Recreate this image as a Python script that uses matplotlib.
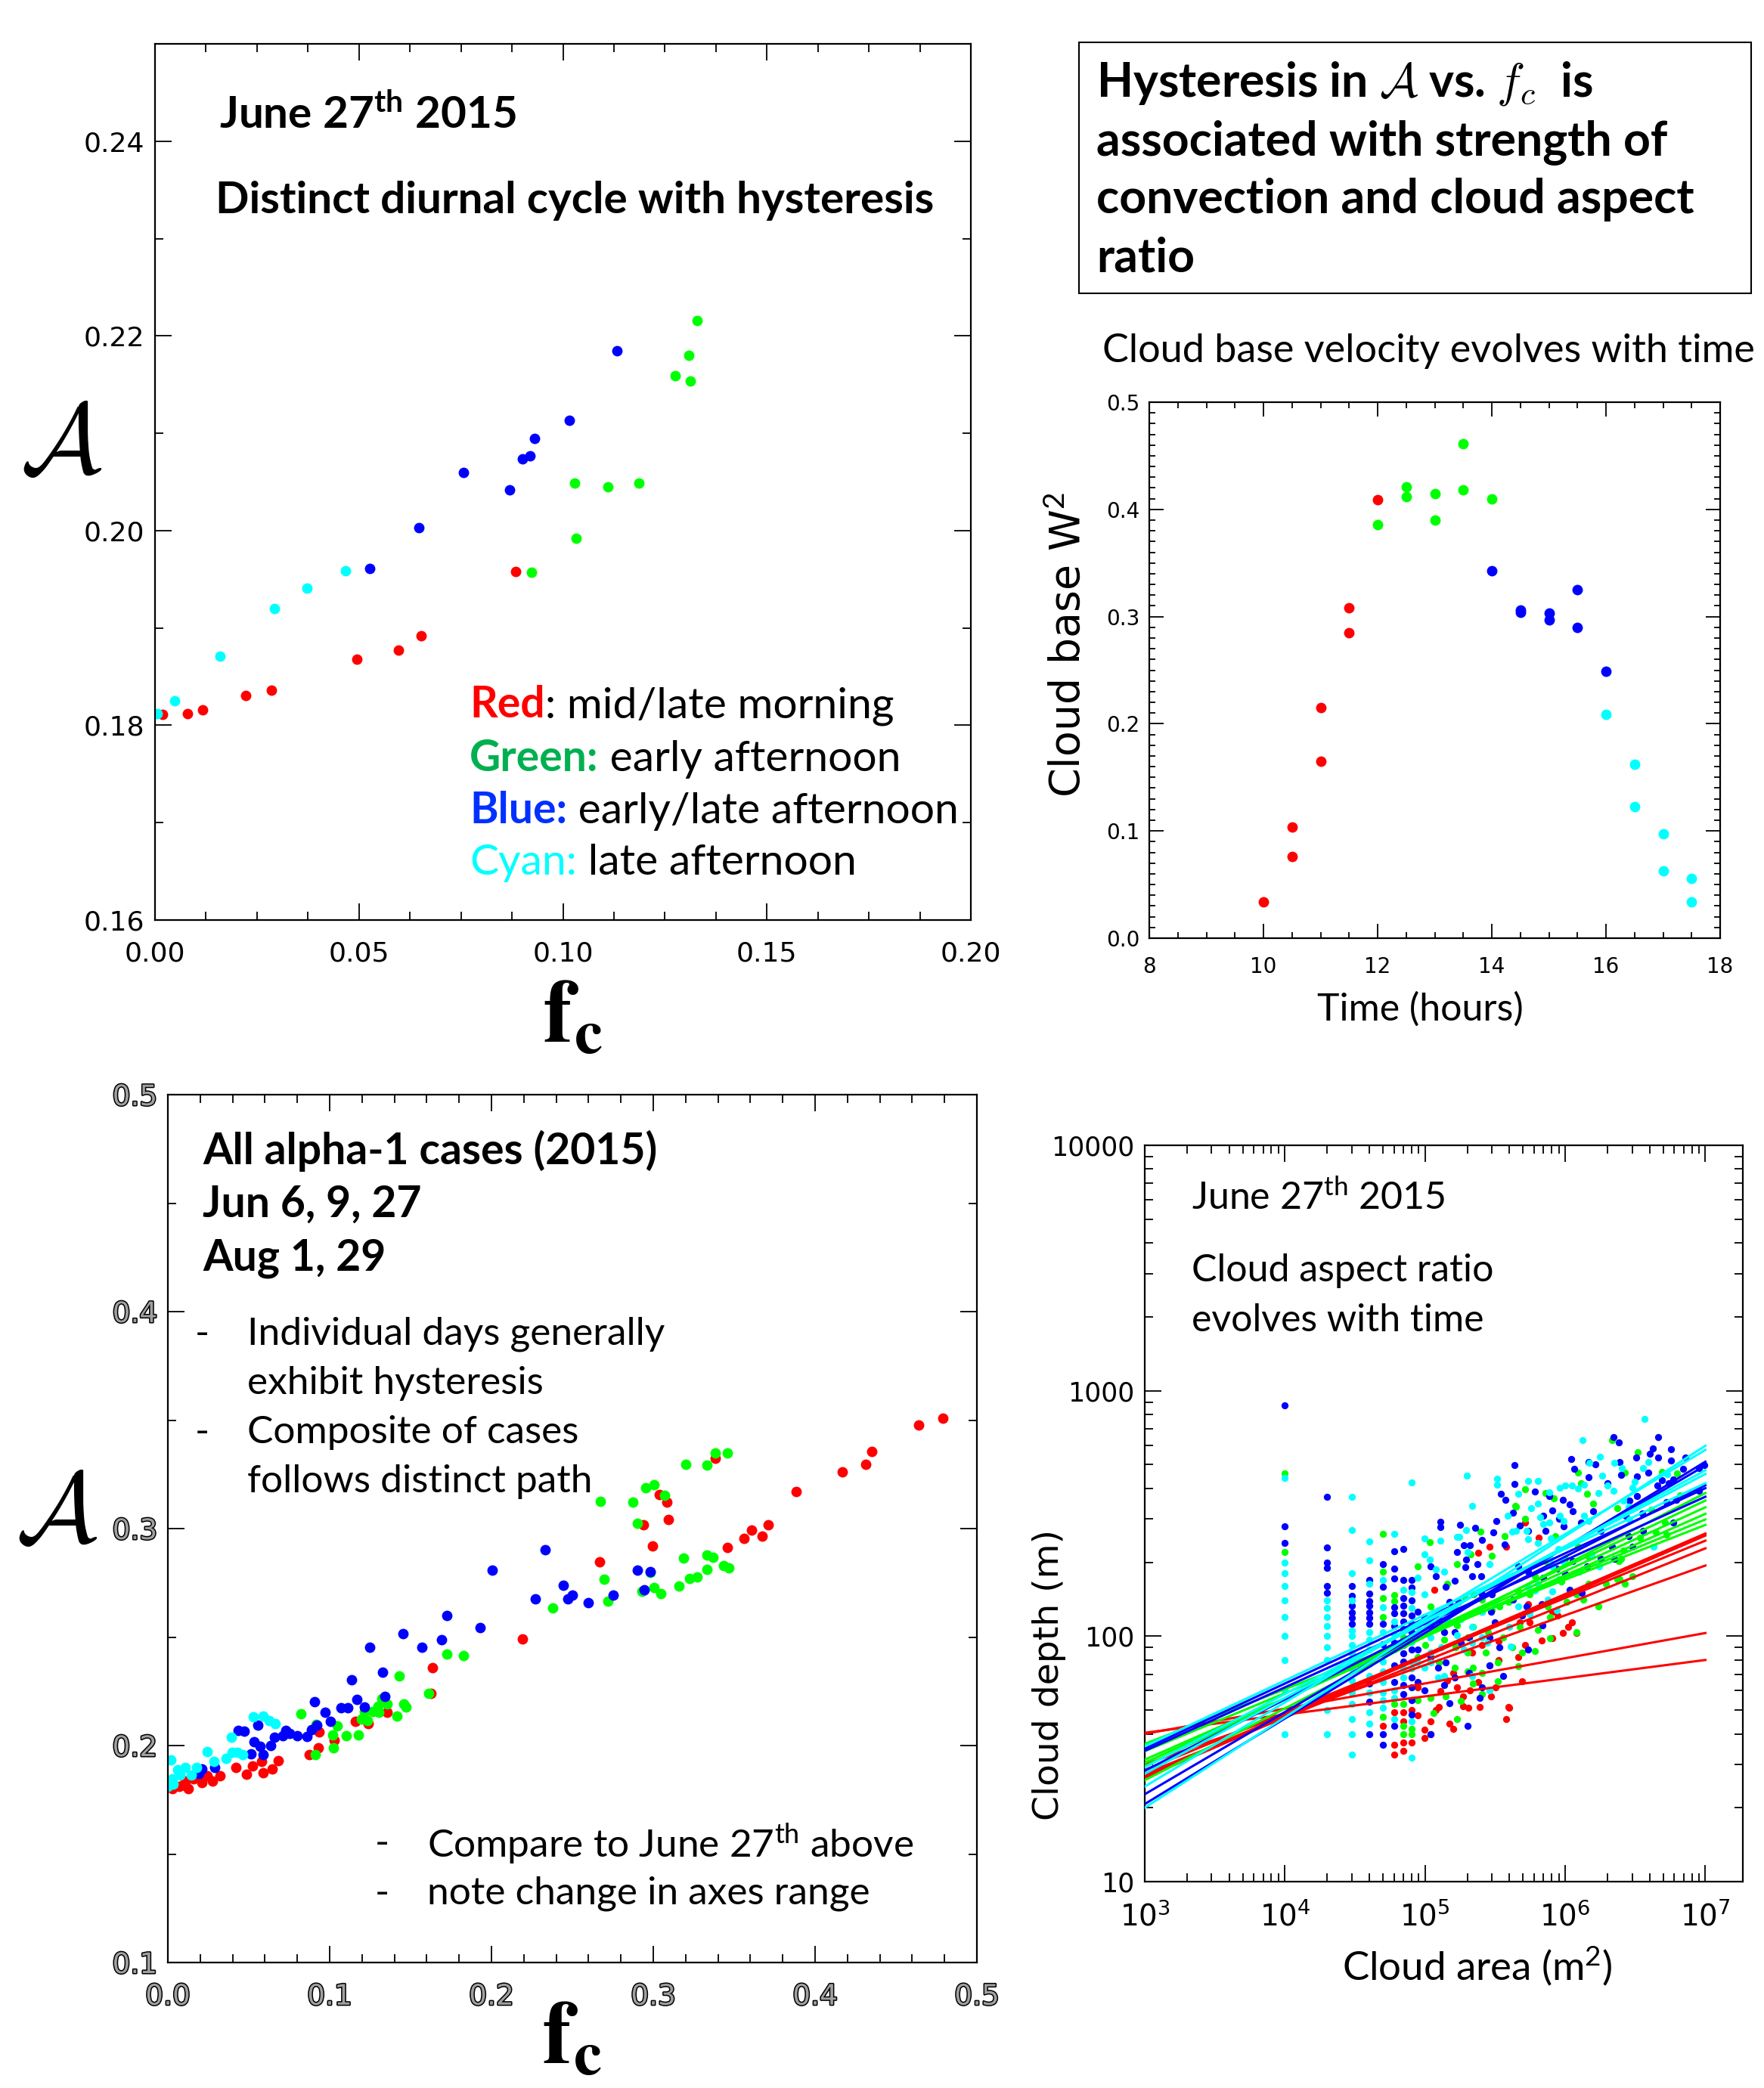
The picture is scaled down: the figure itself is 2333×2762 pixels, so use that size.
import numpy as np
import matplotlib
matplotlib.use('Agg')
import matplotlib.pyplot as plt
from matplotlib.ticker import MultipleLocator, LogLocator, FixedLocator, FuncFormatter, NullFormatter
from matplotlib.offsetbox import TextArea, HPacker, AnnotationBbox
from matplotlib.patches import Rectangle
import matplotlib.patheffects as pe
from matplotlib import font_manager

# ---------------- donnees ----------------
# panneau haut gauche : 27 juin 2015, A vs fc
tl_red_fc = [0.0019, 0.0080, 0.0117, 0.0222, 0.0285, 0.0495, 0.0597, 0.0652, 0.0885]
tl_red_A = [0.1811, 0.1812, 0.1816, 0.1831, 0.1836, 0.1868, 0.1877, 0.1892, 0.1958]
tl_green_fc = [0.0924, 0.1029, 0.1033, 0.1110, 0.1186, 0.1275, 0.1308, 0.1312, 0.1329]
tl_green_A = [0.1957, 0.2049, 0.1992, 0.2045, 0.2049, 0.2159, 0.2180, 0.2154, 0.2216]
tl_blue_fc = [0.0526, 0.0646, 0.0757, 0.0870, 0.0901, 0.0919, 0.0931, 0.1015, 0.1132]
tl_blue_A = [0.1961, 0.2003, 0.2060, 0.2042, 0.2074, 0.2077, 0.2095, 0.2113, 0.2185]
tl_cyan_fc = [0.0005, 0.0048, 0.0159, 0.0293, 0.0373, 0.0467]
tl_cyan_A = [0.1812, 0.1825, 0.1871, 0.1920, 0.1941, 0.1959]

# panneau haut droite : W^2 a la base des nuages
tr_red_t = [10, 10.5, 10.5, 11, 11, 11.5, 11.5, 12]
tr_red_w = [0.034, 0.104, 0.076, 0.215, 0.165, 0.308, 0.285, 0.409]
tr_green_t = [12, 12.5, 12.5, 13, 13, 13.5, 13.5, 14]
tr_green_w = [0.386, 0.421, 0.412, 0.415, 0.390, 0.461, 0.418, 0.410]
tr_blue_t = [14, 14.5, 14.5, 15, 15, 15.5, 15.5, 16]
tr_blue_w = [0.343, 0.306, 0.304, 0.303, 0.297, 0.325, 0.290, 0.249]
tr_cyan_t = [16, 16.5, 16.5, 17, 17, 17.5, 17.5]
tr_cyan_w = [0.209, 0.162, 0.123, 0.097, 0.063, 0.056, 0.034]

# panneau bas gauche : tous les cas alpha-1 (fc, A)
bl_red = [(0.000, 0.1812), (0.003, 0.1800), (0.0068, 0.1812), (0.0107, 0.1814), (0.0107, 0.1835),
          (0.0125, 0.1800), (0.0161, 0.1847), (0.0211, 0.1830), (0.0242, 0.1859), (0.0274, 0.1835),
          (0.0323, 0.1859), (0.0421, 0.1899), (0.0484, 0.1868), (0.0524, 0.1905), (0.0580, 0.1928),
          (0.0589, 0.1876), (0.0643, 0.1891), (0.0682, 0.1932), (0.0874, 0.1957), (0.0930, 0.1990),
          (0.0934, 0.2064), (0.1029, 0.2023), (0.1158, 0.2110), (0.1236, 0.2102), (0.1356, 0.2155),
          (0.1625, 0.2242), (0.1634, 0.2358), (0.2192, 0.2491), (0.2668, 0.2845), (0.2940, 0.3016),
          (0.2996, 0.2920), (0.3037, 0.3157), (0.3084, 0.3121), (0.3095, 0.3043), (0.3382, 0.3325),
          (0.3460, 0.2913), (0.3561, 0.2953), (0.3609, 0.2993), (0.3675, 0.2965), (0.3711, 0.3016),
          (0.3884, 0.3169), (0.4170, 0.3261), (0.4314, 0.3296), (0.4351, 0.3355), (0.4639, 0.3477),
          (0.4789, 0.3507)]
bl_green = [(0.0822, 0.2145), (0.0916, 0.2097), (0.0910, 0.1957), (0.1024, 0.1990), (0.1021, 0.2048),
            (0.1049, 0.2090), (0.1101, 0.2044), (0.1178, 0.2049), (0.1198, 0.2123), (0.1234, 0.2116),
            (0.1216, 0.2158), (0.1266, 0.2158), (0.1302, 0.2152), (0.1298, 0.2180), (0.1324, 0.2216),
            (0.1356, 0.2192), (0.1415, 0.2135), (0.1431, 0.2320), (0.1460, 0.2192), (0.1473, 0.2178),
            (0.1613, 0.2242), (0.1724, 0.2422), (0.1825, 0.2414), (0.2377, 0.2634), (0.2671, 0.3126),
            (0.2697, 0.2767), (0.2721, 0.2666), (0.2873, 0.3122), (0.2901, 0.3025), (0.2932, 0.2712),
            (0.2954, 0.3188), (0.2982, 0.2799), (0.3007, 0.3202), (0.3007, 0.2729), (0.3048, 0.2699),
            (0.3071, 0.3153), (0.3157, 0.2735), (0.3185, 0.2863), (0.3199, 0.3297), (0.3225, 0.2770),
            (0.3272, 0.2776), (0.3333, 0.2877), (0.3333, 0.2811), (0.3334, 0.3293), (0.3367, 0.2868),
            (0.3381, 0.3349), (0.3434, 0.2831), (0.3457, 0.3348), (0.3465, 0.2819)]
bl_blue = [(0.0190, 0.1870), (0.0209, 0.1891), (0.0292, 0.1899), (0.0434, 0.2071), (0.0472, 0.2065),
           (0.0515, 0.1961), (0.0533, 0.2019), (0.0556, 0.2094), (0.0571, 0.1995), (0.0590, 0.1957),
           (0.0637, 0.2000), (0.0661, 0.2037), (0.0709, 0.2044), (0.0731, 0.2068), (0.0754, 0.2056),
           (0.0797, 0.2047), (0.0860, 0.2042), (0.0889, 0.2073), (0.0905, 0.2203), (0.0921, 0.2093),
           (0.0971, 0.2152), (0.1007, 0.2112), (0.1068, 0.2174), (0.1110, 0.2174), (0.1137, 0.2304),
           (0.1166, 0.2213), (0.1214, 0.2178), (0.1248, 0.2453), (0.1325, 0.2338), (0.1340, 0.2227),
           (0.1453, 0.2514), (0.1568, 0.2453), (0.1692, 0.2488), (0.1726, 0.2600), (0.1929, 0.2545),
           (0.2007, 0.2807), (0.2272, 0.2677), (0.2334, 0.2902), (0.2443, 0.2739), (0.2470, 0.2677),
           (0.2500, 0.2692), (0.2596, 0.2660), (0.2753, 0.2695), (0.2901, 0.2809), (0.2945, 0.2718),
           (0.2982, 0.2802)]
bl_cyan = [(0.0000, 0.1812), (0.0000, 0.1818), (0.0021, 0.1934), (0.0026, 0.1847), (0.0035, 0.1824),
           (0.0062, 0.1888), (0.0075, 0.1865), (0.0107, 0.1899), (0.0146, 0.1865), (0.0179, 0.1899),
           (0.0242, 0.1972), (0.0287, 0.1926), (0.0362, 0.1940), (0.0391, 0.2039), (0.0395, 0.1968),
           (0.0430, 0.1968), (0.0463, 0.1957), (0.0529, 0.2131), (0.0589, 0.2136), (0.0628, 0.2116),
           (0.0664, 0.2102)]

# panneau bas droite : profondeur vs aire des nuages
# petites aires : colonnes (aire fixe, liste de profondeurs)
col_area = [1e4, 2e4, 3e4, 4e4, 5e4, 6e4, 7e4, 8e4]
red_cols = [[], [], [], [], [43], [49, 36, 33], [49, 45, 37, 34], [37]]
green_cols = [[220, 460], [], [], [], [262, 183, 143, 120, 47], [147, 139, 53], [99, 53, 43, 40], [42, 40]]
blue_cols = [[240, 280, 870], [370, 230, 200, 190, 160, 150], [160, 146, 133, 125, 119, 112],
             [170, 149, 139, 133, 125, 119, 112, 64, 54, 40], [197, 159, 112, 93, 40, 36],
             [222, 189, 172, 131, 124, 110, 94, 76, 65, 43],
             [227, 170, 143, 133, 124, 115, 107, 92, 85, 79, 63, 58],
             [170, 158, 140, 121, 112, 104, 88, 68, 62, 55, 48]]
cyan_cols = [[40, 60, 80, 100, 120, 140, 160, 180, 200, 440],
             [140, 130, 120, 110, 100, 90, 80, 70, 60, 50, 40],
             [370, 270, 180, 140, 105, 100, 92, 85, 80, 74, 66, 59, 53, 46, 40, 33],
             [243, 204, 164, 104, 97, 88, 77, 69, 59, 49, 44],
             [170, 131, 104, 85, 79, 72, 65, 59, 55, 51],
             [262, 115, 102, 88, 60, 56, 46], [154, 74, 68], [423, 151, 130, 95, 79, 74, 45, 32]]
# grandes aires : points (aire m2, profondeur m)
red_pts = [(1.16e5, 155), (9.9e4, 41.7), (9.9e4, 38.4), (8.9e4, 47.5), (1.09e5, 45), (1.09e5, 39.8),
           (8.0e4, 50), (8.9e4, 62), (1.19e5, 50), (1.26e5, 51.6), (1.29e5, 59.6), (1.43e5, 66),
           (1.59e5, 71), (1.69e5, 62), (1.49e5, 44), (1.59e5, 42), (1.87e5, 52), (2.08e5, 60),
           (2.04e5, 51), (2.45e5, 51.6), (2.4e5, 65), (1.87e5, 57), (2.17e5, 86), (2.56e5, 92),
           (2.96e5, 56.7), (3.2e5, 62), (2.9e5, 76), (3.35e5, 80), (3.35e5, 95.6), (3.8e5, 46),
           (3.95e5, 51.6), (2.4e5, 219), (2.9e5, 232), (3.8e5, 232), (4.0e5, 51), (4.65e5, 82),
           (4.95e5, 65.5), (5.2e5, 92), (4.75e5, 114), (5.6e5, 114), (5.4e5, 135), (6.8e5, 96),
           (8.1e5, 98), (9.6e5, 103), (1.05e6, 109), (1.12e6, 114), (8.85e5, 121), (8.1e5, 126),
           (6.5e5, 252), (5.2e5, 291), (1.2e6, 103)]
green_pts = [(1.08e5, 241), (8.9e4, 193), (2.47e5, 267), (1.69e5, 196), (2.12e5, 216), (3.0e5, 212),
             (3.7e5, 255), (4.4e5, 340), (1.43e5, 163), (1.91e5, 145), (2.21e5, 148), (2.56e5, 141),
             (3.0e5, 128), (3.4e5, 132), (3.95e5, 138), (1.09e5, 132), (1.26e5, 128), (1.43e5, 117),
             (1.69e5, 111), (2.0e5, 99), (2.2e5, 109), (2.8e5, 104), (3.6e5, 99), (4.2e5, 90),
             (1.37e5, 97), (1.65e5, 90), (2.0e5, 86), (2.2e5, 74.5), (2.7e5, 86), (3.3e5, 78),
             (1.0e5, 92), (8.9e4, 82), (1.26e5, 78), (1.62e5, 74.5), (2.0e5, 72), (2.56e5, 71),
             (1.4e5, 57), (1.8e5, 54.6), (2.2e5, 64), (2.56e5, 58), (3.3e5, 65.5), (8.9e4, 55),
             (1.09e5, 56), (1.69e5, 46), (1.15e5, 48.5),
             (1.24e6, 465), (2.15e6, 628), (5.2e5, 398), (7.2e5, 382), (8.3e5, 365), (1.29e6, 421),
             (1.43e6, 380), (1.58e6, 348), (2.34e6, 332), (4.47e5, 336), (5.2e5, 301), (8.5e5, 255),
             (1.23e6, 232), (1.46e6, 211), (2.15e6, 232), (2.4e6, 202), (1.0e6, 206), (7.2e5, 202),
             (6.1e5, 175), (9.4e5, 167), (1.21e6, 148), (1.46e6, 163), (1.34e6, 141), (1.72e6, 132),
             (1.95e6, 163), (2.34e6, 171), (4.65e5, 152), (5.6e5, 148), (7.5e5, 132), (7.8e5, 120),
             (1.02e6, 138), (4.75e5, 109), (6.4e5, 106), (7.8e5, 98), (1.21e6, 104), (4.95e5, 86),
             (6.1e5, 87), (4.65e5, 75.5),
             (3.3e6, 561), (6.25e6, 462), (2.65e6, 465), (4.9e6, 468), (4.1e6, 328), (6.6e6, 376),
             (5.15e6, 291), (4.46e6, 265), (3.4e6, 252), (5.3e6, 259), (2.6e6, 224), (2.5e6, 206),
             (3.0e6, 175), (2.65e6, 164), (2.45e6, 171)]
blue_pts = [(4.35e5, 498), (4.35e5, 418), (3.46e5, 379), (3.76e5, 360), (4.24e5, 318), (3.21e5, 294),
            (2.28e5, 276), (1.29e5, 292), (1.29e5, 278), (1.78e5, 284), (3.08e5, 265), (3.68e5, 237),
            (1.88e5, 234), (2.08e5, 234), (2.56e5, 247), (1.68e5, 221), (1.97e5, 205), (2.37e5, 196),
            (1.93e5, 191), (2.17e5, 175), (2.5e5, 175), (1.62e5, 168), (1.09e5, 192), (1.19e5, 175),
            (1.4e5, 159), (1.49e5, 138), (1.73e5, 138), (2.56e5, 148), (3.0e5, 148), (2.56e5, 126),
            (2.95e5, 126), (3.15e5, 114), (8.9e4, 126), (9.9e4, 120), (1.09e5, 111), (1.26e5, 117),
            (1.37e5, 104), (1.62e5, 104), (1.8e5, 94), (2.05e5, 99), (2.9e5, 99), (3.4e5, 90),
            (8.9e4, 88), (1.09e5, 82), (1.24e5, 74.5), (1.4e5, 78), (1.62e5, 68), (2.05e5, 71),
            (2.9e5, 76), (3.6e5, 69), (8.9e4, 65), (9.9e4, 60), (1.37e5, 63), (1.49e5, 53.5),
            (2.56e5, 62), (2.45e5, 56), (2.0e5, 43), (1.09e5, 40),
            (1.1e6, 528), (1.16e6, 482), (1.46e6, 514), (1.65e6, 501), (1.46e6, 443), (2.2e6, 649),
            (2.4e6, 616), (2.0e6, 420), (6.1e5, 389), (7.7e5, 373), (9.6e5, 360), (1.07e6, 344),
            (8.1e5, 325), (7.0e5, 309), (9.0e5, 301), (5.4e5, 268), (4.75e5, 282), (7.2e5, 268),
            (9.8e5, 281), (1.13e6, 324), (1.29e6, 291), (1.58e6, 324), (1.79e6, 268), (2.16e6, 232),
            (2.25e6, 206), (1.79e6, 206), (1.43e6, 192), (1.13e6, 202), (1.0e6, 179), (8.7e5, 188),
            (7.0e5, 173), (5.4e5, 183), (4.6e5, 192), (4.25e5, 141), (5.3e5, 132), (6.8e5, 135),
            (1.07e6, 155), (1.31e6, 150), (4.95e5, 121), (6.9e5, 111), (5.4e5, 88),
            (4.6e6, 648), (5.7e6, 578), (4.2e6, 582), (4.6e6, 536), (4.0e6, 552), (3.2e6, 536),
            (5.66e6, 520), (7.2e6, 536), (2.44e6, 514), (2.5e6, 453), (3.27e6, 449), (3.9e6, 464),
            (4.9e6, 432), (5.9e6, 435), (6.9e6, 479), (9.0e6, 484), (9.8e6, 497), (4.55e6, 410),
            (5.5e6, 420), (2.88e6, 356), (3.27e6, 373), (5.3e6, 351), (6.2e6, 360), (9.0e6, 391),
            (3.55e6, 316), (2.7e6, 309), (5.9e6, 291), (3.6e6, 269), (2.83e6, 255), (3.0e6, 232)]
cyan_pts = [(1.98e5, 451), (3.25e5, 438), (3.25e5, 415), (2.18e5, 340), (1.97e5, 270), (9.9e4, 250),
            (9.9e4, 215), (1.08e5, 205), (1.29e5, 245), (1.69e5, 254), (1.76e5, 254), (8.9e4, 173),
            (1.19e5, 187), (1.37e5, 183), (2.9e5, 196), (2.0e5, 220), (4.2e5, 267), (3.87e5, 309),
            (8.9e4, 109), (9.9e4, 148), (1.09e5, 99), (1.09e5, 86), (1.09e5, 78), (1.26e5, 109),
            (1.43e5, 117), (1.62e5, 132), (1.8e5, 117), (2.17e5, 109), (2.17e5, 94), (2.56e5, 126),
            (2.78e5, 94), (3.15e5, 135), (4.0e5, 109), (4.1e5, 91), (2.9e5, 60), (1.3e5, 90),
            (1.37e5, 69), (1.69e5, 101), (1.9e5, 88), (2.17e5, 69), (2.56e5, 99), (8.9e4, 78),
            (9.9e4, 74.5), (1.24e5, 68),
            (1.33e6, 631), (1.77e6, 538), (2.25e6, 510), (1.49e6, 508), (1.83e6, 451), (2.0e6, 410),
            (6.4e5, 430), (5.45e5, 428), (4.6e5, 380), (9.1e5, 403), (1.0e6, 412), (1.11e6, 410),
            (1.23e6, 401), (1.37e6, 415), (1.72e6, 382), (2.2e6, 391), (7.65e5, 387), (6.4e5, 348),
            (5.7e5, 332), (6.6e5, 305), (7.0e5, 286), (7.65e5, 291), (9.2e5, 310), (1.37e6, 309),
            (1.46e6, 294), (4.45e5, 268), (5.3e5, 269), (5.4e5, 249), (6.4e5, 239), (7.9e5, 250),
            (9.8e5, 294), (8.9e5, 227), (7.8e5, 206), (9.6e5, 202), (1.26e6, 183), (1.55e6, 216),
            (1.75e6, 192), (8.1e5, 192), (9.0e5, 171), (8.1e5, 152), (7.5e5, 141), (6.4e5, 163),
            (5.4e5, 159), (6.1e5, 153), (4.6e5, 132), (5.6e5, 123), (8.7e5, 128),
            (3.66e6, 769), (3.9e6, 514), (3.6e6, 484), (3.13e6, 425), (3.0e6, 403), (2.55e6, 484),
            (5.37e6, 457), (2.83e6, 336), (2.88e6, 298), (4.28e6, 232), (2.6e6, 356)]
# droites d'ajustement : profondeur a 1e3 m2 et a 1e7 m2
fit_area = [1e3, 1e7]
red_fit_start = [40.4, 40.0, 27.0, 26.5, 28.5, 27.5, 30.0]
red_fit_end = [80, 103, 262, 257, 245, 228, 194]
green_fit_start = [25.9, 29.6, 30.5, 31.4, 34.0, 36.4]
green_fit_end = [383, 357, 335, 315, 299, 284]
blue_fit_start = [20.7, 22.7, 28.3, 34.8, 34.1]
blue_fit_end = [514, 496, 412, 401, 370]
cyan_fit_start = [20.0, 24.4, 27.5, 29.2, 35.6]
cyan_fit_end = [597, 574, 474, 458, 420]

# ---------------- style ----------------
W, H = 2333, 2762
RED, GREEN, BLUE, CYAN = '#ff0000', '#00ff00', '#0000ff', '#00ffff'
TXT = 'Lato'
noms = {f.name for f in font_manager.fontManager.ttflist}
NARROW = 'Liberation Sans Narrow' if 'Liberation Sans Narrow' in noms else 'DejaVu Sans'

plt.rcParams['font.family'] = ['DejaVu Sans']
plt.rcParams['mathtext.fontset'] = 'custom'
plt.rcParams['mathtext.rm'] = TXT
plt.rcParams['mathtext.bf'] = TXT + ':bold'
plt.rcParams['mathtext.it'] = TXT + ':italic'

fig = plt.figure(figsize=(W / 100, H / 100), dpi=100)


def fx(px):
    return px / W


def fy(py):
    return 1 - py / H


def axes_px(left, top, right, bottom):
    return fig.add_axes([fx(left), fy(bottom), (right - left) / W, (bottom - top) / H])


def style(ax, lsize, maj=14, mino=7):
    ax.tick_params(which='both', direction='in', top=True, right=True, width=1.3, labelsize=lsize)
    ax.tick_params(which='major', length=maj)
    ax.tick_params(which='minor', length=mino)
    for s in ax.spines.values():
        s.set_linewidth(1.6)


def ligne_coul(x, y, tete, coul, gras, reste, taille):
    a = TextArea(tete, textprops=dict(color=coul, fontsize=taille, family=TXT,
                                      fontweight='bold' if gras else 'normal'))
    b = TextArea(reste, textprops=dict(color='black', fontsize=taille, family=TXT))
    box = HPacker(children=[a, b], align='baseline', pad=0, sep=0)
    ab = AnnotationBbox(box, (fx(x), fy(y)), xycoords='figure fraction', box_alignment=(0, 0.5),
                        frameon=False, pad=0)
    fig.add_artist(ab)


# ---------------- haut gauche ----------------
ax1 = axes_px(205, 58, 1284, 1217)
ax1.scatter(tl_red_fc, tl_red_A, s=100, color=RED, lw=0)
ax1.scatter(tl_green_fc, tl_green_A, s=100, color=GREEN, lw=0)
ax1.scatter(tl_blue_fc, tl_blue_A, s=100, color=BLUE, lw=0)
ax1.scatter(tl_cyan_fc, tl_cyan_A, s=100, color=CYAN, lw=0)
ax1.set_xlim(0, 0.2)
ax1.set_ylim(0.16, 0.25)
ax1.xaxis.set_major_locator(MultipleLocator(0.05))
ax1.xaxis.set_minor_locator(MultipleLocator(0.0125))
ax1.yaxis.set_major_locator(FixedLocator([0.16, 0.18, 0.20, 0.22, 0.24]))
ax1.yaxis.set_minor_locator(MultipleLocator(0.01))
ax1.xaxis.set_major_formatter(FuncFormatter(lambda v, p: '%.2f' % v))
ax1.yaxis.set_major_formatter(FuncFormatter(lambda v, p: '%.2f' % v))
style(ax1, 26, 16, 8)
ax1.tick_params(axis='x', pad=20)
ax1.tick_params(axis='y', pad=10)

fig.text(fx(290), fy(152), r'June 27$^{\mathbf{th}}$ 2015', fontsize=42, fontweight='bold', family=TXT, va='center')
fig.text(fx(285), fy(266), 'Distinct diurnal cycle with hysteresis', fontsize=42, fontweight='bold', family=TXT, va='center')
ligne_coul(621, 933, 'Red', '#ff0000', True, ': mid/late morning', 41)
ligne_coul(621, 1003, 'Green:', '#00b050', True, ' early afternoon', 41)
ligne_coul(621, 1073, 'Blue:', '#0030ff', True, ' early/late afternoon', 41)
ligne_coul(621, 1142, 'Cyan:', '#00ffff', False, ' late afternoon', 41)
fig.text(fx(81), fy(588), r'$\mathcal{A}$', fontsize=95, math_fontfamily='cm', ha='center', va='center')
fig.text(fx(757), fy(1346), r'$\mathbf{f}_{\mathbf{c}}$', fontsize=85, math_fontfamily='stix', ha='center', va='center')

# ---------------- haut droite : encadre ----------------
fig.add_artist(Rectangle((fx(1427), fy(388)), (2316 - 1427) / W, (388 - 56) / H, transform=fig.transFigure,
                         fill=False, lw=1.5, color='black'))
titre = [r'Hysteresis in $\mathcal{A}$ vs. $f_c$  is', 'associated with strength of',
         'convection and cloud aspect', 'ratio']
for i, t in enumerate(titre):
    fig.text(fx(1450), fy(128 + 77 * i), t, fontsize=45, fontweight='bold', family=TXT,
             math_fontfamily='cm', va='baseline')
fig.text(fx(1458), fy(464), 'Cloud base velocity evolves with time', fontsize=37.5, family=TXT, va='center')

ax2 = axes_px(1520, 532, 2275, 1241)
ax2.scatter(tr_red_t, tr_red_w, s=100, color=RED, lw=0)
ax2.scatter(tr_green_t, tr_green_w, s=100, color=GREEN, lw=0)
ax2.scatter(tr_blue_t, tr_blue_w, s=100, color=BLUE, lw=0)
ax2.scatter(tr_cyan_t, tr_cyan_w, s=100, color=CYAN, lw=0)
ax2.set_xlim(8, 18)
ax2.set_ylim(0, 0.5)
ax2.xaxis.set_major_locator(MultipleLocator(2))
ax2.xaxis.set_minor_locator(MultipleLocator(0.5))
ax2.yaxis.set_major_locator(MultipleLocator(0.1))
ax2.yaxis.set_minor_locator(MultipleLocator(0.01))
ax2.yaxis.set_major_formatter(FuncFormatter(lambda v, p: '%.1f' % v))
style(ax2, 20, 14, 6)
ax2.tick_params(axis='x', pad=17)
ax2.tick_params(axis='y', pad=9)
fig.text(fx(1878), fy(1335), 'Time (hours)', fontsize=36, family=TXT, ha='center', va='center')
fig.text(fx(1413), fy(853), r'Cloud base W$^2$', fontsize=40, family=NARROW, rotation=90,
         ha='center', va='center')

# ---------------- bas gauche ----------------
ax3 = axes_px(222, 1448, 1292, 2596)
for pts, c in [(bl_red, RED), (bl_green, GREEN), (bl_blue, BLUE), (bl_cyan, CYAN)]:
    x, y = zip(*pts)
    ax3.scatter(x, y, s=100, color=c, lw=0)
ax3.set_xlim(0, 0.5)
ax3.set_ylim(0.1, 0.5)
ax3.xaxis.set_major_locator(MultipleLocator(0.1))
ax3.xaxis.set_minor_locator(MultipleLocator(0.02))
ax3.yaxis.set_major_locator(MultipleLocator(0.1))
ax3.yaxis.set_minor_locator(MultipleLocator(0.05))
ax3.xaxis.set_major_formatter(FuncFormatter(lambda v, p: '%.1f' % v))
ax3.yaxis.set_major_formatter(FuncFormatter(lambda v, p: '%.1f' % v))
style(ax3, 27, 16, 8)
ax3.tick_params(axis='x', pad=20)
ax3.tick_params(axis='y', pad=10)
for lab in ax3.get_xticklabels() + ax3.get_yticklabels():
    lab.set_color('#a0a0a0')
    lab.set_path_effects([pe.Stroke(linewidth=2.2, foreground='black'), pe.Normal()])

for i, t in enumerate(['All alpha-1 cases (2015)', 'Jun 6, 9, 27', 'Aug 1, 29']):
    fig.text(fx(268), fy(1522 + 71 * i), t, fontsize=41, fontweight='bold', family=TXT, va='center')
puces = ['Individual days generally', 'exhibit hysteresis', 'Composite of cases', 'follows distinct path']
for i, t in enumerate(puces):
    fig.text(fx(327), fy(1765 + 65 * i), t, fontsize=37, family=TXT, va='center')
    if i in (0, 2):
        fig.text(fx(258), fy(1765 + 65 * i), '-', fontsize=37, family=TXT, va='center')
fig.text(fx(496), fy(2439), '-', fontsize=37, family=TXT, va='center')
fig.text(fx(565), fy(2439), r'Compare to June 27$^{\mathrm{th}}$ above', fontsize=37, family=TXT, va='center')
fig.text(fx(496), fy(2505), '-', fontsize=37, family=TXT, va='center')
fig.text(fx(565), fy(2505), 'note change in axes range', fontsize=37, family=TXT, va='center')
fig.text(fx(75), fy(2003), r'$\mathcal{A}$', fontsize=95, math_fontfamily='cm', ha='center', va='center')
fig.text(fx(756), fy(2697), r'$\mathbf{f}_{\mathbf{c}}$', fontsize=85, math_fontfamily='stix', ha='center', va='center')

# ---------------- bas droite ----------------
ax4 = axes_px(1514, 1515, 2305, 2489)
groupes = [(red_cols, red_pts, red_fit_start, red_fit_end, RED),
           (green_cols, green_pts, green_fit_start, green_fit_end, GREEN),
           (blue_cols, blue_pts, blue_fit_start, blue_fit_end, BLUE),
           (cyan_cols, cyan_pts, cyan_fit_start, cyan_fit_end, CYAN)]
for cols, pts, d0, d1, c in groupes:
    xs, ys = [], []
    for a, depths in zip(col_area, cols):
        xs += [a] * len(depths)
        ys += depths
    px, py = zip(*pts)
    xs += list(px)
    ys += list(py)
    ax4.scatter(xs, ys, s=45, color=c, lw=0, zorder=2)
    for s0, s1 in zip(d0, d1):
        ax4.plot(fit_area, [s0, s1], color=c, lw=2.2, zorder=3)
ax4.set_xscale('log')
ax4.set_yscale('log')
ax4.set_xlim(1e3, 1.85e7)
ax4.set_ylim(10, 10000)
ax4.yaxis.set_major_locator(FixedLocator([10, 100, 1000, 10000]))
ax4.yaxis.set_major_formatter(FuncFormatter(lambda v, p: '%d' % v))
ax4.yaxis.set_minor_locator(LogLocator(base=10, subs=np.arange(2, 10)))
ax4.yaxis.set_minor_formatter(NullFormatter())
ax4.xaxis.set_minor_locator(LogLocator(base=10, subs=np.arange(2, 10)))
ax4.xaxis.set_minor_formatter(NullFormatter())
style(ax4, 25, 16, 8)
ax4.tick_params(axis='x', pad=19, labelsize=28)
ax4.tick_params(axis='y', pad=10)
fig.text(fx(1576), fy(1585), r'June 27$^{\mathrm{th}}$ 2015', fontsize=36, family=TXT, va='center')
fig.text(fx(1576), fy(1681), 'Cloud aspect ratio', fontsize=36, family=TXT, va='center')
fig.text(fx(1576), fy(1747), 'evolves with time', fontsize=36, family=TXT, va='center')
fig.text(fx(1954), fy(2601), r'Cloud area (m$^2$)', fontsize=38, family=TXT, ha='center', va='center')
fig.text(fx(1388), fy(2215), 'Cloud depth (m)', fontsize=34, family=NARROW, rotation=90, ha='center', va='center')

fig.savefig('out.png', dpi=100)
